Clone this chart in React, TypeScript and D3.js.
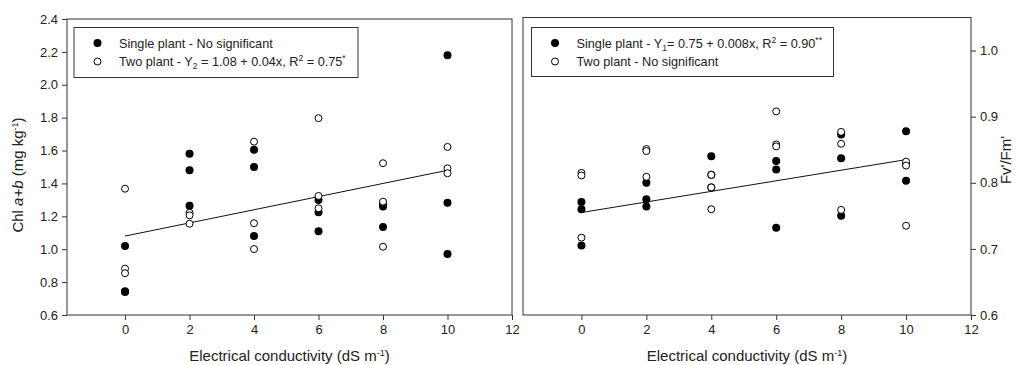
import React, { useEffect, useRef } from 'react';
import * as d3 from 'd3';

// EC levels (dS m-1) and three replicate readings per level
const ecLevels = [0, 2, 4, 6, 8, 10];
const xTicks = [0, 2, 4, 6, 8, 10, 12];
const chlTicks = [0.6, 0.8, 1.0, 1.2, 1.4, 1.6, 1.8, 2.0, 2.2, 2.4];
const fvTicks = [0.6, 0.7, 0.8, 0.9, 1.0];

const chlSingle = [
  [1.02, 0.745, 0.74],
  [1.58, 1.48, 1.265],
  [1.605, 1.5, 1.08],
  [1.3, 1.225, 1.11],
  [1.28, 1.26, 1.135],
  [2.18, 1.283, 0.971],
];
const chlTwo = [
  [1.368, 0.882, 0.854],
  [1.222, 1.206, 1.155],
  [1.654, 1.158, 1.001],
  [1.797, 1.324, 1.249],
  [1.523, 1.289, 1.015],
  [1.622, 1.492, 1.462],
];
const fvSingle = [
  [0.771, 0.76, 0.705],
  [0.8, 0.775, 0.764],
  [0.84, 0.812, 0.793],
  [0.833, 0.82, 0.732],
  [0.873, 0.837, 0.75],
  [0.878, 0.828, 0.803],
];
const fvTwo = [
  [0.815, 0.811, 0.717],
  [0.851, 0.848, 0.809],
  [0.812, 0.793, 0.76],
  [0.908, 0.858, 0.855],
  [0.877, 0.859, 0.759],
  [0.832, 0.826, 0.735],
];

// fitted lines: intercept, slope
const chlFit = [1.08, 0.04];
const fvFit = [0.755, 0.008];

const FONT = 'Liberation Sans, Arial, sans-serif';
const AXIS = '#333';

// write text pieces with sub/superscripts into a <text>
const richText = (t, parts, small) => {
  let shift = 0;
  parts.forEach(([s, kind]) => {
    const target = kind === 'sub' ? 3 : kind === 'sup' ? -5 : 0;
    const span = t.append('tspan').text(s);
    if (target !== shift) span.attr('dy', target - shift);
    if (kind) span.attr('font-size', small);
    shift = target;
  });
};

const App = () => {
  const ref = useRef(null);

  useEffect(() => {
    const svg = d3.select(ref.current);
    svg.selectAll('*').remove();
    svg.attr('font-family', FONT);

    const flatten = (vals) =>
      vals.flatMap((reps, i) => reps.map(v => ({ x: ecLevels[i], y: v })));

    const drawPanel = (opts) => {
      const { left, right, top, bottom, yDomain, yTicks, side, single, two, fit, legend } = opts;
      const x = d3.scaleLinear().domain([-1.8, 12]).range([left, right]);
      const y = d3.scaleLinear().domain(yDomain).range([bottom, top]);
      const g = svg.append('g');

      g.append('rect')
        .attr('x', left).attr('y', top)
        .attr('width', right - left).attr('height', bottom - top)
        .attr('fill', 'none').attr('stroke', AXIS).attr('stroke-width', 1);

      g.append('g')
        .attr('transform', `translate(0,${bottom})`)
        .call(d3.axisBottom(x).tickValues(xTicks).tickFormat(d3.format('d')).tickSize(5).tickPadding(5))
        .call(a => a.select('.domain').remove())
        .call(a => a.selectAll('line').attr('stroke', AXIS))
        .call(a => a.selectAll('text').attr('font-size', 13).attr('font-family', FONT).attr('fill', '#222'));

      const yAxis = side === 'left' ? d3.axisLeft(y) : d3.axisRight(y);
      g.append('g')
        .attr('transform', `translate(${side === 'left' ? left : right},0)`)
        .call(yAxis.tickValues(yTicks).tickFormat(d3.format('.1f')).tickSize(5).tickPadding(4))
        .call(a => a.select('.domain').remove())
        .call(a => a.selectAll('line').attr('stroke', AXIS))
        .call(a => a.selectAll('text').attr('font-size', 13).attr('font-family', FONT).attr('fill', '#222'));

      // regression line
      g.append('path')
        .datum([0, 10])
        .attr('fill', 'none')
        .attr('stroke', '#111')
        .attr('stroke-width', 1)
        .attr('d', d3.line().x(d => x(d)).y(d => y(fit[0] + fit[1] * d)));

      g.selectAll('circle.single')
        .data(flatten(single))
        .join('circle')
        .attr('class', 'single')
        .attr('cx', d => x(d.x)).attr('cy', d => y(d.y))
        .attr('r', 4).attr('fill', '#000');

      g.selectAll('circle.two')
        .data(flatten(two))
        .join('circle')
        .attr('class', 'two')
        .attr('cx', d => x(d.x)).attr('cy', d => y(d.y))
        .attr('r', 3.5).attr('fill', '#fff').attr('stroke', '#000').attr('stroke-width', 1);

      // x title
      g.append('text')
        .attr('x', (left + right) / 2).attr('y', 361)
        .attr('text-anchor', 'middle').attr('font-size', 15).attr('fill', '#222')
        .call(t => richText(t, [['Electrical conductivity (dS m'], ['-1', 'sup'], [')']], 9));

      // legend
      const lb = legend.box;
      g.append('rect')
        .attr('x', lb[0]).attr('y', lb[1]).attr('width', lb[2]).attr('height', lb[3])
        .attr('fill', '#fff').attr('stroke', AXIS).attr('stroke-width', 1);
      legend.rows.forEach((row, i) => {
        const cy = lb[1] + 15.5 + i * 18.5;
        g.append('circle')
          .attr('cx', lb[0] + 23.5).attr('cy', cy)
          .attr('r', i === 0 ? 4 : 3.5)
          .attr('fill', i === 0 ? '#000' : '#fff')
          .attr('stroke', i === 0 ? 'none' : '#000');
        g.append('text')
          .attr('x', lb[0] + 45).attr('y', cy + 4.5)
          .attr('font-size', 12.7).attr('fill', '#222')
          .call(t => richText(t, row, 8.5));
      });
    };

    drawPanel({
      left: 67, right: 512, top: 19, bottom: 315,
      yDomain: [0.6, 2.4], yTicks: chlTicks, side: 'left',
      single: chlSingle, two: chlTwo, fit: chlFit,
      legend: {
        box: [74, 27.5, 284, 50],
        rows: [
          [['Single plant - No significant']],
          [['Two plant - Y'], ['2', 'sub'], [' = 1.08 + 0.04x, R'], ['2', 'sup'], [' = 0.75'], ['*', 'sup']],
        ],
      },
    });

    drawPanel({
      left: 523, right: 971, top: 17.5, bottom: 315,
      yDomain: [0.6, 1.05], yTicks: fvTicks, side: 'right',
      single: fvSingle, two: fvTwo, fit: fvFit,
      legend: {
        box: [531.5, 27.5, 302, 49],
        rows: [
          [['Single plant - Y'], ['1', 'sub'], ['= 0.75 + 0.008x, R'], ['2', 'sup'], [' = 0.90'], ['**', 'sup']],
          [['Two plant - No significant']],
        ],
      },
    });

    // y titles
    svg.append('text')
      .attr('transform', 'translate(23,175) rotate(-90)')
      .attr('text-anchor', 'middle').attr('font-size', 15).attr('fill', '#222')
      .call(t => {
        t.append('tspan').text('Chl ');
        t.append('tspan').attr('font-style', 'italic').text('a+b');
        richText(t, [[' (mg kg'], ['-1', 'sup'], [')']], 9);
      });

    svg.append('text')
      .attr('transform', 'translate(1011,160) rotate(-90)')
      .attr('text-anchor', 'middle').attr('font-size', 15).attr('fill', '#222')
      .text("Fv'/Fm'");
  }, []);

  return (
    <svg
      ref={ref}
      width={1021}
      height={365}
      style={{ position: 'absolute', left: 0, top: 0, background: '#fff' }}
    />
  );
};

export default App;
